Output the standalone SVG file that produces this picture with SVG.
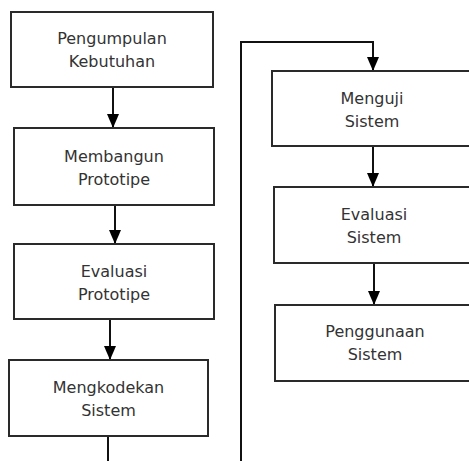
<svg xmlns="http://www.w3.org/2000/svg" width="469" height="461" viewBox="0 0 469 461">
<style>
.box{fill:#fff;stroke:#2a2a2a;stroke-width:2}
.t{font-family:"DejaVu Sans",Verdana,sans-serif;font-size:16px;fill:#333;text-anchor:middle}
.c{fill:none;stroke:#111;stroke-width:2}
</style>
<defs>
<marker id="ah" viewBox="0 0 14 12" refX="14" refY="6" markerWidth="14" markerHeight="12" markerUnits="userSpaceOnUse" orient="auto">
<path d="M0,0 L14,6 L0,12 Z" fill="#000"/>
</marker>
</defs>
<rect width="469" height="461" fill="#fff"/>
<g id="connectors">
<path class="c" d="M113,87 V128" marker-end="url(#ah)"/>
<path class="c" d="M115,205 V244" marker-end="url(#ah)"/>
<path class="c" d="M110,319 V360" marker-end="url(#ah)"/>
<path class="c" d="M108,436 V465"/>
<path class="c" d="M241,465 V42 H373 V71" marker-end="url(#ah)"/>
<path class="c" d="M373,146 V187" marker-end="url(#ah)"/>
<path class="c" d="M374,263 V305" marker-end="url(#ah)"/>
</g>
<g id="n1"><rect class="box" x="11" y="12" width="202" height="75"/><text class="t" x="112" y="44">Pengumpulan</text><text class="t" x="112" y="67">Kebutuhan</text></g>
<g id="n2"><rect class="box" x="14" y="128" width="200" height="77"/><text class="t" x="114" y="162">Membangun</text><text class="t" x="114" y="185">Prototipe</text></g>
<g id="n3"><rect class="box" x="14" y="244" width="200" height="75"/><text class="t" x="114" y="277">Evaluasi</text><text class="t" x="114" y="300">Prototipe</text></g>
<g id="n4"><rect class="box" x="9" y="360" width="199" height="76"/><text class="t" x="108.5" y="393">Mengkodekan</text><text class="t" x="108.5" y="416">Sistem</text></g>
<g id="n5"><rect class="box" x="272" y="71" width="200" height="75"/><text class="t" x="372" y="104">Menguji</text><text class="t" x="372" y="127">Sistem</text></g>
<g id="n6"><rect class="box" x="274" y="187" width="200" height="76"/><text class="t" x="374" y="220">Evaluasi</text><text class="t" x="374" y="243">Sistem</text></g>
<g id="n7"><rect class="box" x="275" y="305" width="200" height="76"/><text class="t" x="375" y="337">Penggunaan</text><text class="t" x="375" y="360">Sistem</text></g>
</svg>
